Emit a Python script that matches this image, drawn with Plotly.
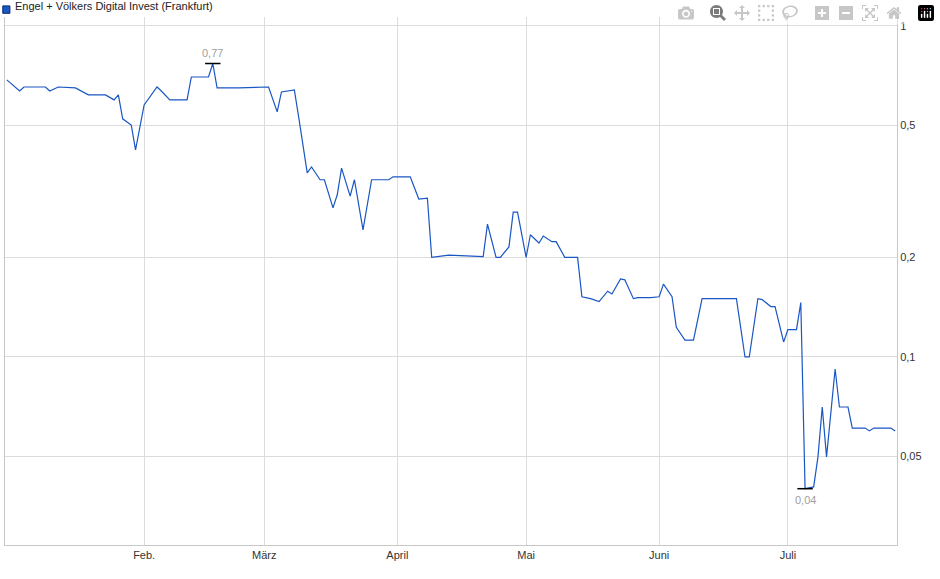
import math
import plotly.graph_objects as go

dates = ["2022-12-31","2023-01-03","2023-01-04","2023-01-09","2023-01-10","2023-01-12","2023-01-16","2023-01-19",
 "2023-01-23","2023-01-25","2023-01-26","2023-01-27","2023-01-29","2023-01-30","2023-02-01","2023-02-04","2023-02-05",
 "2023-02-07","2023-02-11","2023-02-12","2023-02-16","2023-02-17","2023-02-18","2023-02-23","2023-03-02","2023-03-04",
 "2023-03-05","2023-03-08","2023-03-09","2023-03-11","2023-03-12","2023-03-14","2023-03-15","2023-03-17","2023-03-18",
 "2023-03-19","2023-03-21","2023-03-22","2023-03-24","2023-03-26","2023-03-30","2023-03-31","2023-04-04","2023-04-06",
 "2023-04-08","2023-04-09","2023-04-13","2023-04-21","2023-04-22","2023-04-24","2023-04-25","2023-04-27","2023-04-28",
 "2023-04-29","2023-05-01","2023-05-02","2023-05-04","2023-05-05","2023-05-07","2023-05-08","2023-05-10","2023-05-13",
 "2023-05-14","2023-05-16","2023-05-18","2023-05-20","2023-05-21","2023-05-23","2023-05-24","2023-05-26","2023-05-27",
 "2023-05-30","2023-06-01","2023-06-02","2023-06-04","2023-06-05","2023-06-07","2023-06-09","2023-06-11","2023-06-19",
 "2023-06-21","2023-06-22","2023-06-24","2023-06-25","2023-06-27","2023-06-28","2023-06-30","2023-07-01","2023-07-03",
 "2023-07-04","2023-07-05","2023-07-07","2023-07-08","2023-07-09","2023-07-10","2023-07-11","2023-07-12","2023-07-13",
 "2023-07-15","2023-07-16","2023-07-19","2023-07-20","2023-07-21","2023-07-25","2023-07-26"]
prices = [0.687,0.636,0.654,0.654,0.636,0.654,0.650,0.619,0.619,0.598,0.619,0.524,0.502,0.422,0.577,0.654,0.636,
 0.598,0.598,0.701,0.701,0.770,0.650,0.650,0.654,0.550,0.632,0.641,0.531,0.360,0.375,0.343,0.343,0.282,0.309,
 0.372,0.306,0.343,0.242,0.343,0.343,0.350,0.350,0.300,0.302,0.200,0.203,0.201,0.252,0.200,0.200,0.215,0.274,
 0.274,0.200,0.234,0.221,0.232,0.223,0.223,0.200,0.200,0.152,0.150,0.147,0.158,0.155,0.172,0.171,0.150,0.151,
 0.151,0.152,0.166,0.152,0.123,0.1125,0.1125,0.150,0.150,0.100,0.100,0.150,0.149,0.142,0.142,0.111,0.121,0.121,
 0.146,0.040,0.0405,0.0499,0.0706,0.0499,0.0682,0.092,0.0706,0.0706,0.061,0.061,0.0598,0.061,0.061,0.0598]

month_ticks = ["2023-02-01","2023-03-01","2023-04-01","2023-05-01","2023-06-01","2023-07-01"]
month_labels = ["Feb.","März","April","Mai","Juni","Juli"]
y_ticks = [0.05,0.1,0.2,0.5,1]
y_labels = ["0,05","0,1","0,2","0,5","1"]
series_name = "Engel + Völkers Digital Invest (Frankfurt)"
hi_date, hi_val, hi_label = "2023-02-17", 0.770, "0,77"
lo_date, lo_val, lo_label = "2023-07-05", 0.040, "0,04"

BLUE = "#1a56c4"
fig = go.Figure()
fig.add_trace(go.Scatter(x=dates, y=prices, mode="lines", line=dict(color=BLUE, width=1.2),
                         showlegend=False, hoverinfo="skip"))
fig.add_trace(go.Scatter(x=[hi_date, lo_date], y=[hi_val, lo_val], mode="markers",
                         marker=dict(symbol="line-ew", size=11, line=dict(color="black", width=1.5)),
                         showlegend=False, hoverinfo="skip"))
fig.add_annotation(x=hi_date, y=math.log10(hi_val), text=hi_label, showarrow=False, yshift=11,
                   font=dict(size=11, color="#a0a0a0"))
fig.add_annotation(x=lo_date, y=math.log10(lo_val), text=lo_label, showarrow=False, yshift=-11,
                   font=dict(size=11, color="#a0a0a0"))
fig.add_shape(type="rect", xref="paper", yref="paper", x0=-0.0025, x1=0.0055, y0=1.007, y1=1.021,
              fillcolor=BLUE, line=dict(color="#0a2a70", width=1))
fig.add_annotation(xref="paper", yref="paper", x=0.009, y=1.0215, xanchor="left", yanchor="middle",
                   text=series_name, showarrow=False, font=dict(size=11, color="#222"))

fig.update_layout(
    width=940, height=579, margin=dict(l=5, r=43, t=17, b=34),
    paper_bgcolor="white", plot_bgcolor="white",
    font=dict(family="Liberation Sans, Arial, sans-serif", size=11, color="#333"),
    xaxis=dict(type="date", range=["2022-12-30 14:00", "2023-07-26 10:00"],
               tickvals=month_ticks, ticktext=month_labels, showgrid=True, gridcolor="#dcdcdc",
               gridwidth=1, zeroline=False, showline=True, linecolor="#c8c8c8", ticks="",
               tickfont=dict(size=11, color="#333")),
    yaxis=dict(type="log", range=[-1.568, 0.027], side="right", tickvals=y_ticks, ticktext=y_labels,
               showgrid=True, gridcolor="#dcdcdc", zeroline=False, showline=True, linecolor="#c8c8c8",
               mirror=True, ticks="", tickfont=dict(size=11, color="#333")),
)
fig.write_html("out.html")
with open("out.html", encoding="utf-8") as f:
    html = f.read()
html = html.replace("<body>", '<body style="margin:0;overflow:hidden">', 1)
with open("out.html", "w", encoding="utf-8") as f:
    f.write(html)
